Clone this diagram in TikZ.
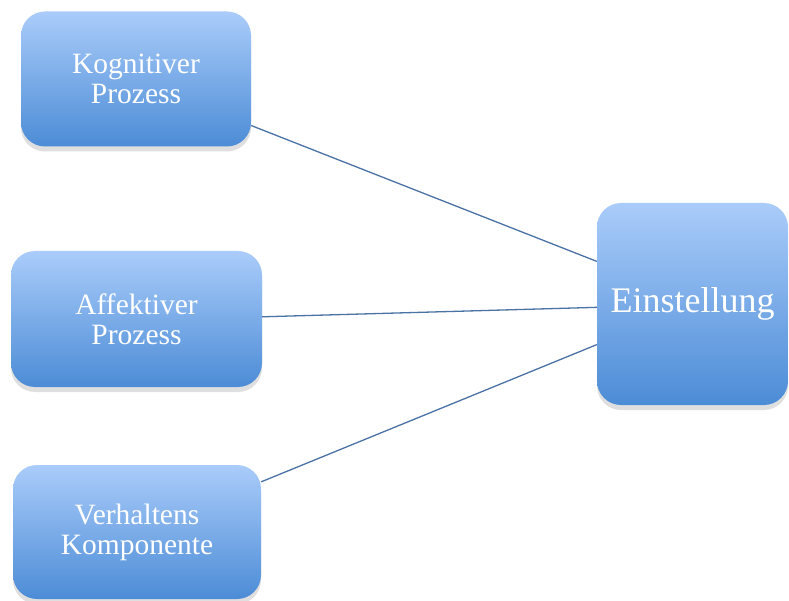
\documentclass[tikz,border=0pt]{standalone}
\usepackage{fontspec}
\setmainfont{Liberation Serif}
\usetikzlibrary{shadows}
\definecolor{boxtop}{RGB}{170,204,250}
\definecolor{boxbottom}{RGB}{76,140,214}
\definecolor{linkblue}{RGB}{74,114,164}
\begin{document}
\begin{tikzpicture}[x=1pt,y=-1pt,
  box/.style={rounded corners=24pt, top color=boxtop, bottom color=boxbottom,
    draw=none, text=white, align=center, inner sep=0pt,
    drop shadow={opacity=0.25, shadow xshift=0pt, shadow yshift=-5pt},
    font=\fontsize{29.5}{30}\selectfont},
  link/.style={linkblue, line width=1.3pt}]
\useasboundingbox (0,0) rectangle (789,601);
\clip (0,0) rectangle (789,601);

\node [box, minimum width=230pt, minimum height=135pt] (kog) at (136,79) {Kognitiver\\Prozess};
\node [box, minimum width=251pt, minimum height=136pt] (aff) at (136.5,319) {Affektiver\\Prozess};
\node [box, minimum width=248pt, minimum height=134pt] (verh) at (137,532) {Verhaltens\\Komponente};
\node [box, minimum width=191pt, minimum height=202pt, font=\fontsize{36}{37}\selectfont] (einst) at (692.5,304) {Einstellung};

\draw [link] (kog.-22) -- (einst.156);
\draw [link] (aff.1.4) -- (einst.182.4);
\draw [link] (verh.22) -- (einst.203);

\end{tikzpicture}
\end{document}
